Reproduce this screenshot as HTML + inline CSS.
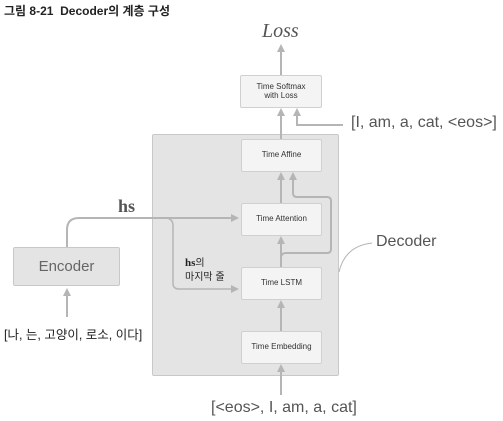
<!DOCTYPE html>
<html><head><meta charset="utf-8"><style>
body{margin:0;width:503px;height:421px;background:#fff;overflow:hidden;position:relative;font-family:"Liberation Sans","Noto Sans CJK KR",sans-serif}
.b{position:absolute;background:#f4f4f4;border:1px solid #d0d0d0;border-radius:2px;font-size:8px;color:#333;display:flex;align-items:center;justify-content:center;text-align:center;line-height:1.05;box-sizing:border-box}
.t{position:absolute;white-space:nowrap}
</style></head><body>
<div class="t" style="left:4px;top:2px;font-size:12px;font-weight:bold;color:#222">그림 8-21&nbsp; Decoder의 계층 구성</div>
<div style="position:absolute;left:152px;top:134px;width:187px;height:242px;background:#e4e4e4;border:1px solid #c8c8c8;border-radius:2px;box-sizing:border-box"></div>
<svg width="503" height="421" style="position:absolute;left:0;top:0">
<defs><marker id="a" markerWidth="8" markerHeight="8" refX="4" refY="4" orient="auto" markerUnits="userSpaceOnUse"><path d="M0,0 L8,4 L0,8z" fill="#b5b5b5"/></marker></defs>
<g stroke="#b5b5b5" stroke-width="2" fill="none">
<path d="M281,75 V48" marker-end="url(#a)"/>
<path d="M343,125 H297 V112" marker-end="url(#a)"/>
<path d="M281,139 V112" marker-end="url(#a)"/>
<path d="M281,203 V176" marker-end="url(#a)"/>
<path d="M281,267 V258 Q281,253 286,253 H327 Q331,253 331,249 V201 Q331,197 327,197 H297 Q293,197 293,193 V176" />
<path d="M293,182 V176" marker-end="url(#a)"/>
<path d="M281,267 V240" marker-end="url(#a)"/>
<path d="M281,331 V304" marker-end="url(#a)"/>
<path d="M281,395 V368" marker-end="url(#a)"/>
<path d="M67,317 V292" marker-end="url(#a)"/>
<path d="M67,247 V230 Q67,218 79,218 H235" marker-end="url(#a)"/>
<path d="M165,218 Q173,218 173,226 V283 Q173,289 179,289 H235" stroke-width="1.5" marker-end="url(#a)"/>
<path d="M339,272 Q345,246 372,243" stroke-width="1"/>
</g></svg>
<div class="t" style="left:262px;top:20px;font-family:'Liberation Serif',serif;font-style:italic;font-size:20px;color:#555">Loss</div>
<div class="b" style="left:240px;top:75px;width:82px;height:33px">Time Softmax<br>with Loss</div>
<div class="b" style="left:241px;top:139px;width:81px;height:33px">Time Affine</div>
<div class="b" style="left:241px;top:203px;width:81px;height:33px">Time Attention</div>
<div class="b" style="left:241px;top:267px;width:81px;height:33px">Time LSTM</div>
<div class="b" style="left:241px;top:331px;width:81px;height:33px">Time Embedding</div>
<div class="b" style="left:13px;top:247px;width:107px;height:39px;background:#e4e4e4;border-color:#c8c8c8;font-size:15px;color:#666">Encoder</div>
<div class="t" style="left:351px;top:114px;font-size:16px;color:#555">[I, am, a, cat, &lt;eos&gt;]</div>
<div class="t" style="left:376px;top:233px;font-size:16px;color:#555">Decoder</div>
<div class="t" style="left:118px;top:196px;font-family:'Liberation Serif',serif;font-weight:bold;font-size:18px;color:#555">hs</div>
<div class="t" style="left:185px;top:256px;font-size:10px;color:#222;line-height:14px"><b style="font-family:'Liberation Serif',serif;font-size:11px">hs</b>의<br>마지막 줄</div>
<div class="t" style="left:4px;top:324px;font-size:12.5px;color:#222">[나, 는, 고양이, 로소, 이다]</div>
<div class="t" style="left:211px;top:399px;font-size:16px;color:#555">[&lt;eos&gt;, I, am, a, cat]</div>
</body></html>
